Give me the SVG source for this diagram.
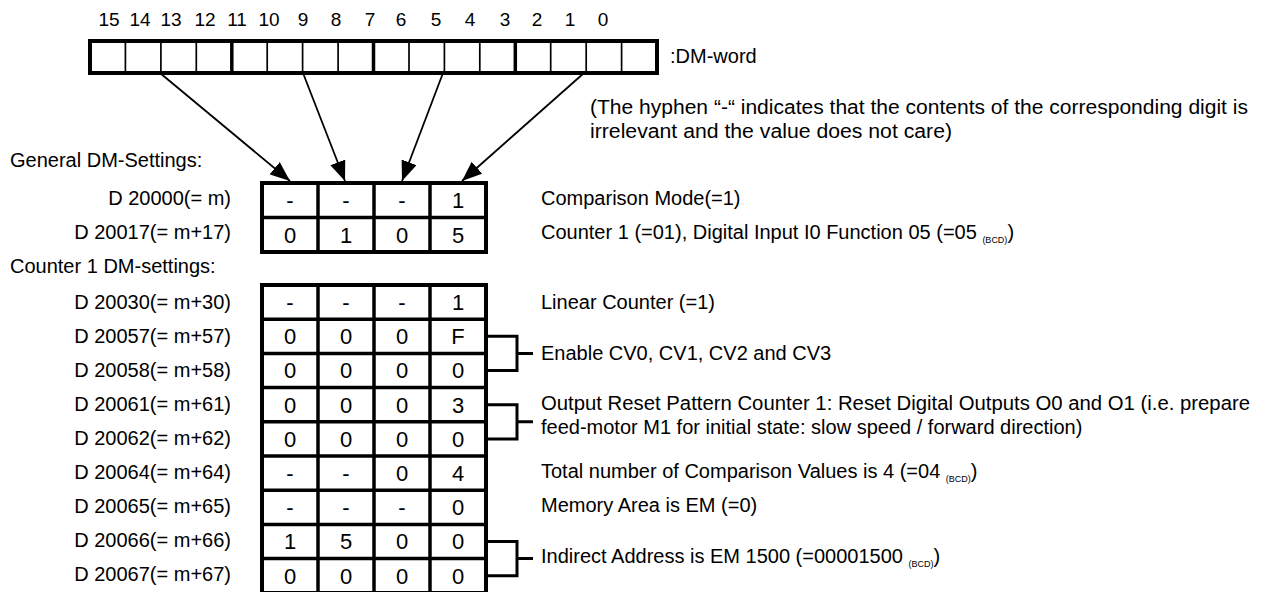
<svg xmlns="http://www.w3.org/2000/svg" width="1266" height="592" viewBox="0 0 1266 592">
<style>
text{font-family:"Liberation Sans",Arial,sans-serif;fill:#000}
.bit{font-size:19px;text-anchor:middle}
.lbl{font-size:20px;text-anchor:end}
.hdr{font-size:20px}
.desc{font-size:20px}
.sub{font-size:9px}
.dig{font-size:22px;text-anchor:middle}
.thick{fill:none;stroke:#000;stroke-width:4}
.thin{stroke:#000;stroke-width:1.7}
.grp{stroke:#000;stroke-width:3.5}
.cell{stroke:#000;stroke-width:3.5}
.arr{stroke:#000;stroke-width:1.8;fill:none}
.brk{stroke:#000;stroke-width:3;fill:none}
</style>
<defs>
<marker id="ah" markerUnits="userSpaceOnUse" markerWidth="22" markerHeight="16" refX="20" refY="8" orient="auto" viewBox="0 0 22 16">
<path d="M0,0 L20,8 L0,16 Z" fill="#000"/>
</marker>
</defs>

<g id="dm-word">
<g>
<text class="bit" x="109" y="26">15</text>
<text class="bit" x="140" y="26">14</text>
<text class="bit" x="171" y="26">13</text>
<text class="bit" x="205" y="26">12</text>
<text class="bit" x="237" y="26">11</text>
<text class="bit" x="269" y="26">10</text>
<text class="bit" x="303" y="26">9</text>
<text class="bit" x="336" y="26">8</text>
<text class="bit" x="370" y="26">7</text>
<text class="bit" x="401" y="26">6</text>
<text class="bit" x="436" y="26">5</text>
<text class="bit" x="470" y="26">4</text>
<text class="bit" x="505" y="26">3</text>
<text class="bit" x="537" y="26">2</text>
<text class="bit" x="570" y="26">1</text>
<text class="bit" x="603" y="26">0</text>
</g>
<g>
<line class="thin" x1="125.4" y1="41" x2="125.4" y2="73"/>
<line class="thin" x1="160.9" y1="41" x2="160.9" y2="73"/>
<line class="thin" x1="196.3" y1="41" x2="196.3" y2="73"/>
<line class="grp" x1="231.8" y1="41" x2="231.8" y2="73"/>
<line class="thin" x1="267.2" y1="41" x2="267.2" y2="73"/>
<line class="thin" x1="302.6" y1="41" x2="302.6" y2="73"/>
<line class="thin" x1="338.1" y1="41" x2="338.1" y2="73"/>
<line class="grp" x1="373.5" y1="41" x2="373.5" y2="73"/>
<line class="thin" x1="409" y1="41" x2="409" y2="73"/>
<line class="thin" x1="444.4" y1="41" x2="444.4" y2="73"/>
<line class="thin" x1="479.8" y1="41" x2="479.8" y2="73"/>
<line class="grp" x1="515.3" y1="41" x2="515.3" y2="73"/>
<line class="thin" x1="550.7" y1="41" x2="550.7" y2="73"/>
<line class="thin" x1="586.2" y1="41" x2="586.2" y2="73"/>
<line class="thin" x1="621.6" y1="41" x2="621.6" y2="73"/>
<rect class="thick" x="90" y="41" width="567" height="32"/>
</g>
<text class="hdr" x="670" y="63">:DM-word</text>
</g>

<g id="connectors">
<line class="arr" x1="160" y1="73" x2="290" y2="181" marker-end="url(#ah)"/>
<line class="arr" x1="303" y1="73" x2="345" y2="181" marker-end="url(#ah)"/>
<line class="arr" x1="443" y1="73" x2="402" y2="181" marker-end="url(#ah)"/>
<line class="arr" x1="584" y1="73" x2="462" y2="181" marker-end="url(#ah)"/>
<path class="brk" d="M486,336.3 H517 V370.5 H486 M517,353.4 H533"/>
<path class="brk" d="M486,404.7 H517 V438.9 H486 M517,421.8 H533"/>
<path class="brk" d="M486,541.5 H517 V575.7 H486 M517,558.6 H533"/>
</g>

<g id="note">
<text class="desc" x="590" y="114" textLength="658" lengthAdjust="spacingAndGlyphs">(The hyphen “-“ indicates that the contents of the corresponding digit is</text>
<text class="desc" x="590" y="138" textLength="362" lengthAdjust="spacingAndGlyphs">irrelevant and the value does not care)</text>
</g>

<g id="general-settings">
<text class="hdr" x="10" y="167">General DM-Settings:</text>
<text class="lbl" x="231" y="205">D 20000(= m)</text>
<text class="lbl" x="231" y="239">D 20017(= m+17)</text>
<line class="cell" x1="318" y1="183" x2="318" y2="252"/>
<line class="cell" x1="374" y1="183" x2="374" y2="252"/>
<line class="cell" x1="430" y1="183" x2="430" y2="252"/>
<line class="cell" x1="262" y1="217.5" x2="486" y2="217.5"/>
<rect class="thick" x="262" y="183" width="224" height="69"/>
<text class="dig" x="290" y="208">-</text>
<text class="dig" x="346" y="208">-</text>
<text class="dig" x="402" y="208">-</text>
<text class="dig" x="458" y="208">1</text>
<text class="dig" x="290" y="243">0</text>
<text class="dig" x="346" y="243">1</text>
<text class="dig" x="402" y="243">0</text>
<text class="dig" x="458" y="243">5</text>
<text class="desc" x="541" y="205">Comparison Mode(=1)</text>
<text class="desc" x="541" y="239">Counter 1 (=01), Digital Input I0 Function 05 (=05 <tspan class="sub" dy="4">(BCD)</tspan><tspan dy="-4">)</tspan></text>
</g>

<g id="counter1-settings">
<text class="hdr" x="10" y="273">Counter 1 DM-settings:</text>
<text class="lbl" x="231" y="308.5">D 20030(= m+30)</text>
<text class="lbl" x="231" y="342.7">D 20057(= m+57)</text>
<text class="lbl" x="231" y="376.8">D 20058(= m+58)</text>
<text class="lbl" x="231" y="410.9">D 20061(= m+61)</text>
<text class="lbl" x="231" y="445">D 20062(= m+62)</text>
<text class="lbl" x="231" y="479">D 20064(= m+64)</text>
<text class="lbl" x="231" y="513">D 20065(= m+65)</text>
<text class="lbl" x="231" y="547">D 20066(= m+66)</text>
<text class="lbl" x="231" y="581">D 20067(= m+67)</text>
<g>
<line class="cell" x1="318" y1="285" x2="318" y2="593"/>
<line class="cell" x1="374" y1="285" x2="374" y2="593"/>
<line class="cell" x1="430" y1="285" x2="430" y2="593"/>
<line class="cell" x1="262" y1="319.2" x2="486" y2="319.2"/>
<line class="cell" x1="262" y1="353.4" x2="486" y2="353.4"/>
<line class="cell" x1="262" y1="387.6" x2="486" y2="387.6"/>
<line class="cell" x1="262" y1="421.8" x2="486" y2="421.8"/>
<line class="cell" x1="262" y1="456" x2="486" y2="456"/>
<line class="cell" x1="262" y1="490.2" x2="486" y2="490.2"/>
<line class="cell" x1="262" y1="524.4" x2="486" y2="524.4"/>
<line class="cell" x1="262" y1="558.6" x2="486" y2="558.6"/>
<rect class="thick" x="262" y="285" width="224" height="308"/>
</g>
<g>
<text class="dig" x="290" y="310">-</text><text class="dig" x="346" y="310">-</text><text class="dig" x="402" y="310">-</text><text class="dig" x="458" y="310">1</text>
<text class="dig" x="290" y="344.2">0</text><text class="dig" x="346" y="344.2">0</text><text class="dig" x="402" y="344.2">0</text><text class="dig" x="458" y="344.2">F</text>
<text class="dig" x="290" y="378.4">0</text><text class="dig" x="346" y="378.4">0</text><text class="dig" x="402" y="378.4">0</text><text class="dig" x="458" y="378.4">0</text>
<text class="dig" x="290" y="412.6">0</text><text class="dig" x="346" y="412.6">0</text><text class="dig" x="402" y="412.6">0</text><text class="dig" x="458" y="412.6">3</text>
<text class="dig" x="290" y="446.8">0</text><text class="dig" x="346" y="446.8">0</text><text class="dig" x="402" y="446.8">0</text><text class="dig" x="458" y="446.8">0</text>
<text class="dig" x="290" y="481">-</text><text class="dig" x="346" y="481">-</text><text class="dig" x="402" y="481">0</text><text class="dig" x="458" y="481">4</text>
<text class="dig" x="290" y="515.2">-</text><text class="dig" x="346" y="515.2">-</text><text class="dig" x="402" y="515.2">-</text><text class="dig" x="458" y="515.2">0</text>
<text class="dig" x="290" y="549.4">1</text><text class="dig" x="346" y="549.4">5</text><text class="dig" x="402" y="549.4">0</text><text class="dig" x="458" y="549.4">0</text>
<text class="dig" x="290" y="583.6">0</text><text class="dig" x="346" y="583.6">0</text><text class="dig" x="402" y="583.6">0</text><text class="dig" x="458" y="583.6">0</text>
</g>
<text class="desc" x="541" y="308.5">Linear Counter (=1)</text>
<text class="desc" x="541" y="360">Enable CV0, CV1, CV2 and CV3</text>
<text class="desc" x="541" y="410" textLength="709" lengthAdjust="spacingAndGlyphs">Output Reset Pattern Counter 1: Reset Digital Outputs O0 and O1 (i.e. prepare</text>
<text class="desc" x="541" y="434">feed-motor M1 for initial state: slow speed / forward direction)</text>
<text class="desc" x="541" y="478">Total number of Comparison Values is 4 (=04 <tspan class="sub" dy="4">(BCD)</tspan><tspan dy="-4">)</tspan></text>
<text class="desc" x="541" y="512">Memory Area is EM (=0)</text>
<text class="desc" x="541" y="563">Indirect Address is EM 1500 (=00001500 <tspan class="sub" dy="4">(BCD)</tspan><tspan dy="-4">)</tspan></text>
</g>
</svg>
